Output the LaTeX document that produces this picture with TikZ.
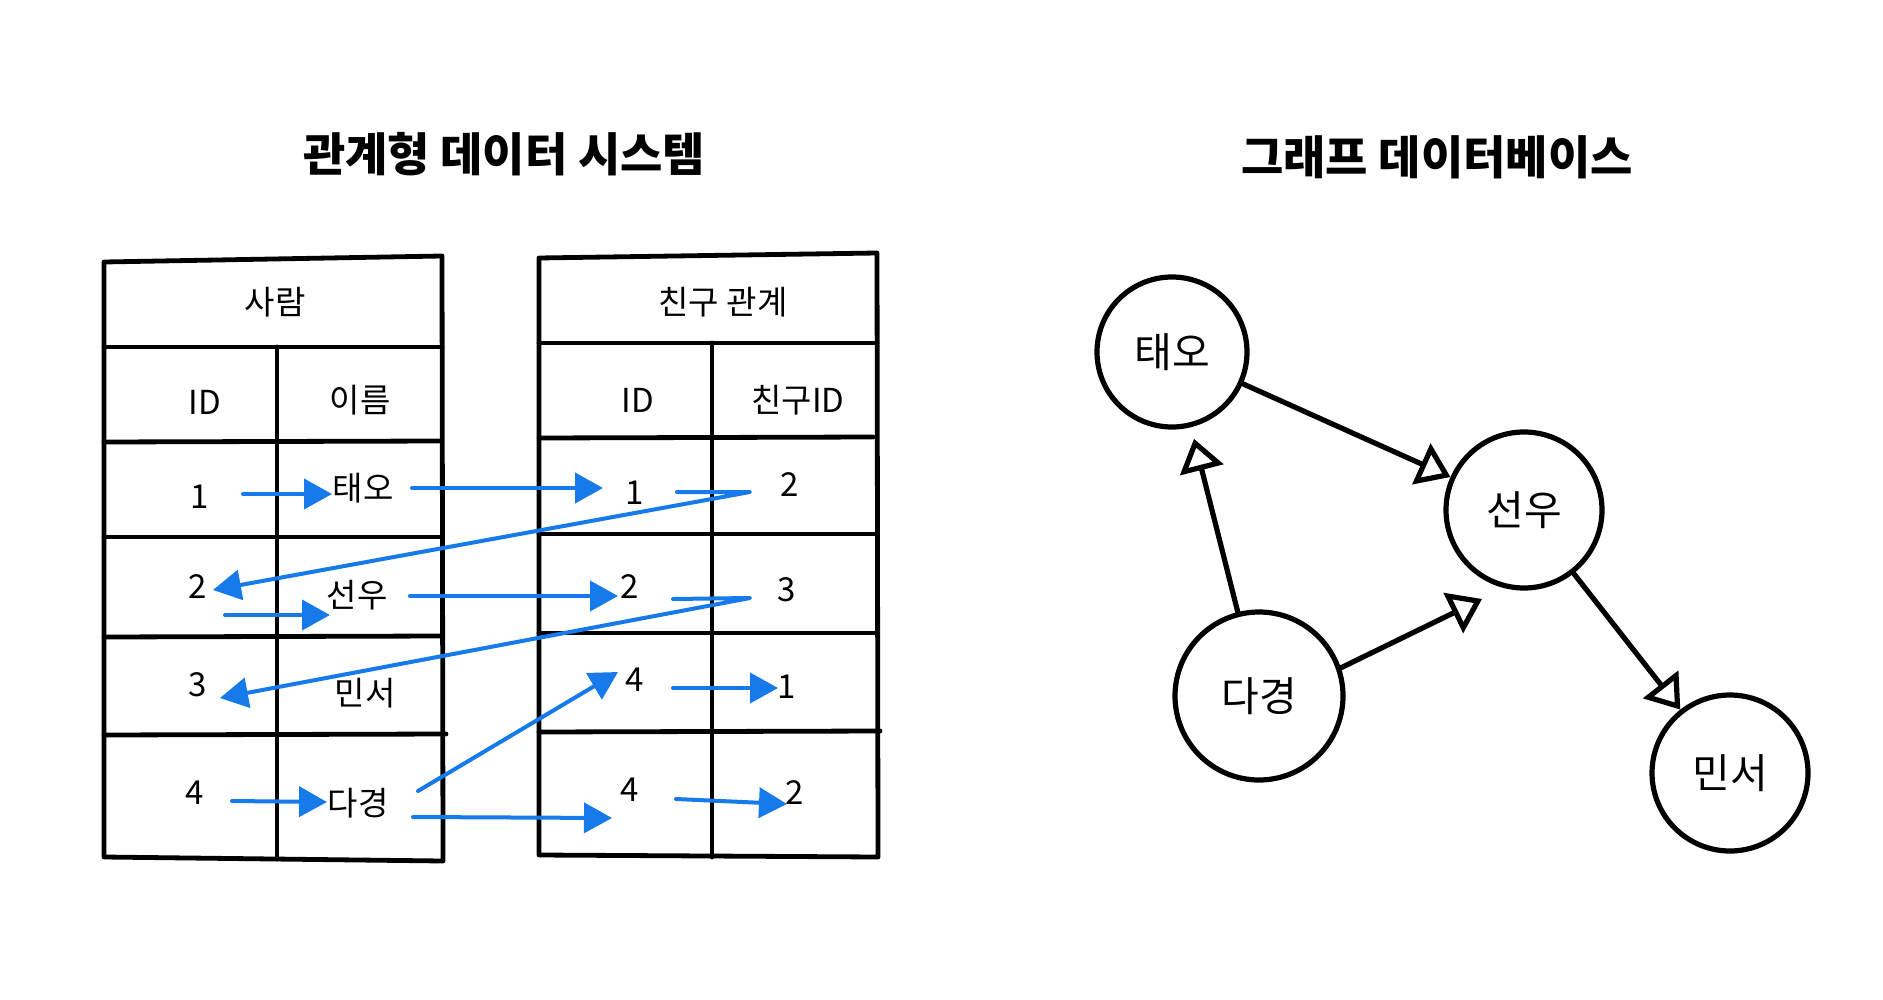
\documentclass[tikz,border=0pt]{standalone}
\usepackage{fontspec}
\setmainfont{Noto Sans CJK KR}
\usetikzlibrary{arrows.meta,calc}
\definecolor{arrblue}{RGB}{22,122,235}
\begin{document}
\begin{tikzpicture}[x=0.5pt,y=-0.5pt,
  tbl/.style={line width=2.4pt, line cap=round, line join=round},
  cell/.style={inner sep=0pt, font=\fontsize{16.5}{18}\selectfont},
  ttl/.style={inner sep=0pt, font=\fontsize{23}{26}\selectfont\bfseries},
  gnode/.style={circle, draw, line width=2.6pt, inner sep=0pt, font=\fontsize{20.5}{22}\selectfont},
  barr/.style={draw=arrblue, line width=2pt, line cap=round, line join=round, -{Triangle[length=14pt,width=15pt]}},
  garr/.style={line width=2.6pt, line cap=round, -{Triangle[open,length=16pt,width=22pt,fill=white]}}
]
\fill[white] (0,0) rectangle (1883,1000);
\useasboundingbox (0,0) rectangle (1883,1000);

% titles
\node[ttl] (t1) at (504,154) {관계형 데이터 시스템};
\node[ttl] (t2) at (1437,157) {그래프 데이터베이스};

% left table
\draw[tbl] (104,262) -- (442,256) -- (443,861) -- (104,857) -- cycle;
\draw[tbl] (104,347) -- (442,347);
\draw[tbl] (277,347) -- (277,859);
\draw[tbl] (104,442) -- (440,441);
\draw[tbl] (104,537) -- (442,537);
\draw[tbl] (104,637) -- (442,636);
\draw[tbl] (104,735) -- (446,734);

% right table
\draw[tbl] (539,258) -- (877,253) -- (878,857) -- (539,855) -- cycle;
\draw[tbl] (539,343) -- (877,343);
\draw[tbl] (712,343) -- (712,857);
\draw[tbl] (539,438) -- (873,437);
\draw[tbl] (539,534) -- (877,534);
\draw[tbl] (539,633) -- (877,633);
\draw[tbl] (539,732) -- (880,731);

% left table texts
\node[cell] (pT) at (275,302) {사람};
\node[cell] (pIDh) at (205,402) {ID};
\node[cell] (pNh) at (360,400) {이름};
\node[cell] (p1) at (200,497) {1};
\node[cell] (n1) at (363,488) {태오};
\node[cell] (p2) at (198,587) {2};
\node[cell] (n2) at (357,595) {선우};
\node[cell] (p3) at (198,685) {3};
\node[cell] (n3) at (365,693) {민서};
\node[cell] (p4) at (195,793) {4};
\node[cell] (n4) at (358,803) {다경};

% right table texts
\node[cell] (fT) at (723,302) {친구 관계};
\node[cell] (fIDh) at (638,400) {ID};
\node[cell] (fFh) at (798,400) {친구ID};
\node[cell] (a1) at (635,493) {1};
\node[cell] (b1) at (790,485) {2};
\node[cell] (a2) at (630,587) {2};
\node[cell] (b2) at (787,590) {3};
\node[cell] (a3) at (635,680) {4};
\node[cell] (b3) at (787,687) {1};
\node[cell] (a4) at (630,790) {4};
\node[cell] (b4) at (795,793) {2};

% blue arrows
\draw[barr] ($(p1)+(43,-3)$) -- ($(n1)+(-31,6)$);
\draw[barr] ($(n1)+(49,0)$) -- ($(a1)+(-32,-5)$);
\draw[barr] ($(a1)+(42,-1)$) -- ($(b1)+(-40,7)$) -- ($(p2)+(15,3)$);
\draw[barr] ($(p2)+(27,28)$) -- ($(n2)+(-27,20)$);
\draw[barr] ($(n2)+(53,1)$) -- ($(a2)+(-12,9)$);
\draw[barr] ($(a2)+(43,12)$) -- ($(b2)+(-37,8)$) -- ($(p3)+(22,13)$);
\draw[barr] ($(p4)+(37,8)$) -- ($(n4)+(-31,-1)$);
\draw[barr] ($(n4)+(60,-12)$) -- ($(a3)+(-17,-8)$);
\draw[barr] ($(n4)+(55,14)$) -- ($(a4)+(-18,28)$);
\draw[barr] ($(a3)+(38,8)$) -- ($(b3)+(-9,1)$);
\draw[barr] ($(a4)+(46,9)$) -- ($(b4)+(-8,11)$);

% graph
\node[gnode, minimum size=75pt] (gT) at (1172,352) {태오};
\node[gnode, minimum size=78pt] (gS) at (1524,510) {선우};
\node[gnode, minimum size=84pt] (gD) at (1259,696) {다경};
\node[gnode, minimum size=78pt] (gM) at (1730,773) {민서};

\draw[garr] (gT) -- (gS);
\draw[garr, shorten >=6pt] (gD) -- (gT);
\draw[garr] (gD.19) -- ($(gS)+(-42,89)$);
\draw[garr] (gS) -- (gM);
\end{tikzpicture}
\end{document}
